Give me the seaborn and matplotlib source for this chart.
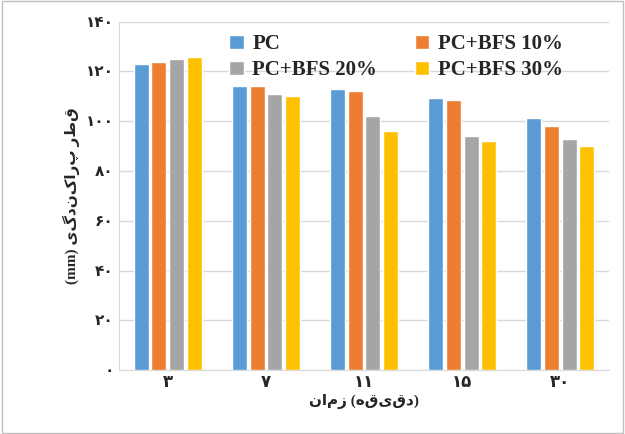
import pandas as pd
import matplotlib.pyplot as plt
import seaborn as sns
from matplotlib.patches import Rectangle

sns.set_style("white")
plt.rcParams['font.family'] = ['Liberation Serif', 'DejaVu Sans']
plt.rcParams['font.weight'] = 'bold'

times = ['۳', '۷', '۱۱', '۱۵', '۳۰']
series = ['PC', 'PC+BFS 10%', 'PC+BFS 20%', 'PC+BFS 30%']
pc = [123, 114, 113, 109.5, 101.5]
bfs10 = [124, 114, 112, 108.5, 98]
bfs20 = [125, 111, 102, 94, 93]
bfs30 = [126, 110, 96, 92, 90]
yticks = [0, 20, 40, 60, 80, 100, 120, 140]
ytick_labels = ['۰', '۲۰', '۴۰', '۶۰', '۸۰', '۱۰۰', '۱۲۰', '۱۴۰']
colors = ['#5B9BD5', '#ED7D31', '#A5A5A5', '#FFC000']


def rtl(text):
    # matplotlib lays glyphs out left to right, so flip the order for Persian
    swap = {'(': ')', ')': '('}
    return ''.join(swap.get(c, c) for c in reversed(text))


rows = []
for name, vals in zip(series, [pc, bfs10, bfs20, bfs30]):
    for t, v in zip(times, vals):
        rows.append({'time': t, 'series': name, 'value': v})
df = pd.DataFrame(rows)

fig, ax = plt.subplots(figsize=(6.25, 4.34), dpi=100)
sns.barplot(data=df, x='time', y='value', hue='series', palette=colors,
            saturation=1, width=0.72, gap=0.15, ax=ax, zorder=3)
ax.set_ylim(0, 140)
ax.set_yticks(yticks)
ax.set_yticklabels(ytick_labels, fontsize=11, fontweight='bold')
ax.tick_params(axis='x', labelsize=12, length=0)
ax.tick_params(axis='y', length=0)
for lbl in ax.get_xticklabels():
    lbl.set_fontweight('bold')
ax.yaxis.grid(True, color='#D9D9D9', linewidth=1, zorder=0)
for s in ['top', 'right']:
    ax.spines[s].set_visible(False)
ax.spines['left'].set_color('#D9D9D9')
ax.spines['bottom'].set_color('#D9D9D9')
ax.set_xlabel(rtl('(دقیقه) زمان'), fontsize=11, fontweight='bold', labelpad=2)
ax.set_ylabel('(mm) ' + rtl('قطر پراکندگی'), fontsize=11, fontweight='bold')

handles, labels = ax.get_legend_handles_labels()
order = [0, 2, 1, 3]
ax.legend([handles[i] for i in order], [labels[i] for i in order],
          ncol=2, loc='upper left', bbox_to_anchor=(0.2, 1.0), frameon=False,
          prop={'family': 'Liberation Serif', 'weight': 'bold', 'size': 15},
          handlelength=0.7, handleheight=0.7, handletextpad=0.4,
          columnspacing=1.8, labelspacing=0.3, borderaxespad=0.2)
fig.subplots_adjust(left=0.19, right=0.975, top=0.95, bottom=0.147)
fig.patches.append(Rectangle((0.003, 0.003), 0.994, 0.994, transform=fig.transFigure,
                             fill=False, edgecolor='#BFBFBF', linewidth=1))
fig.savefig('out.png', dpi=100)
